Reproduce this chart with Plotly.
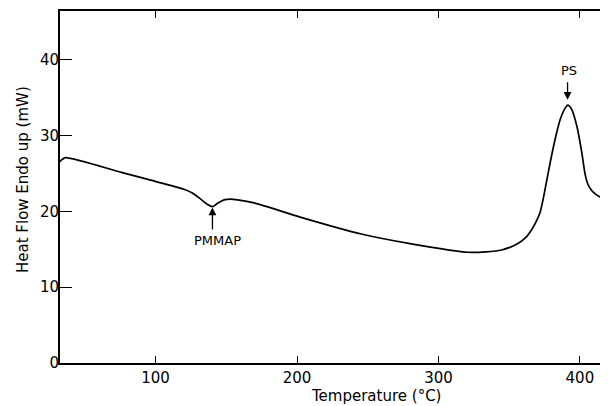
import plotly.graph_objects as go

# Temperature (°C) and heat flow (mW)
temperature = [31.4, 33.8, 36.2, 76.4, 96.5, 120.0, 126.0, 131.9, 136.7, 140.2, 143.8,
               148.4, 153.0, 158.0, 169.7, 202.8, 245.4, 280.9, 321.0, 344.7,
               356.5, 362.0, 366.0, 369.0, 371.8, 373.6, 375.4, 379.0, 382.5, 386.1,
               389.6, 391.5, 394.3, 397.9, 401.4, 403.8, 405.6, 408.5, 411.5, 415.6,
               421.3]
heat_flow = [26.4, 26.8, 27.07, 25.1, 24.1, 22.9, 22.4, 21.6, 20.9, 20.6, 21.05,
             21.5, 21.6, 21.5, 21.1, 19.2, 17.0, 15.7, 14.6, 14.9,
             15.8, 16.6, 17.6, 18.6, 19.8, 21.2, 22.9, 26.4, 29.5, 32.1,
             33.6, 34.0, 33.4, 31.2, 27.7, 24.8, 23.6, 22.7, 22.2, 21.8,
             21.6]

x_ticks = [100, 200, 300, 400]
y_ticks = [0, 10, 20, 30, 40]
x_range = [32.4, 419.9]
y_range = [0, 46.4]

peak_labels = ["PMMAP", "PS"]
peak_T = [140.2, 391.3]
peak_tip = [20.5, 34.7]
peak_tail = [17.4, 37.2]
label_T = [143.6, 392.2]
label_y = [16.2, 38.5]

font_family = "DejaVu Sans"

# The page body has an 8px default margin, so the figure is drawn 8px in from the
# window's top-left corner; size the figure so it fits in the 608x406 window.
OFF = 8
W, H = 600, 398
L, R, T, B = 52, 0, 3, 43
pw, ph = W - L - R, H - T - B


def px_to_paper(px, py):
    """Window pixel position -> paper coordinates."""
    return (px - OFF - L) / pw, (H - B - (py - OFF)) / ph


fig = go.Figure()
fig.add_trace(go.Scatter(
    x=temperature, y=heat_flow, mode="lines",
    line=dict(color="black", width=1.7, shape="spline", smoothing=0.7),
    showlegend=False, hoverinfo="skip"))

for lab, t, tip, tail, lt, ly in zip(peak_labels, peak_T, peak_tip, peak_tail, label_T, label_y):
    fig.add_annotation(x=t, y=tip, ax=t, ay=tail, axref="x", ayref="y",
                       xref="x", yref="y", showarrow=True, arrowhead=2,
                       arrowsize=1.2, arrowwidth=1.3, arrowcolor="black", text="")
    fig.add_annotation(x=lt, y=ly, xref="x", yref="y",
                       text=lab, showarrow=False,
                       font=dict(family=font_family, size=13, color="black"))

xt, yt = px_to_paper(376, 396)
fig.add_annotation(x=xt, y=yt, xref="paper", yref="paper", text="Temperature (°C)",
                   showarrow=False, xanchor="center", yanchor="middle",
                   font=dict(family=font_family, size=15, color="black"))
xt, yt = px_to_paper(23, 180)
fig.add_annotation(x=xt, y=yt, xref="paper", yref="paper", text="Heat Flow Endo up (mW)",
                   showarrow=False, xanchor="center", yanchor="middle", textangle=-90,
                   font=dict(family=font_family, size=15, color="black"))

fig.update_layout(
    width=W, height=H,
    margin=dict(l=L, r=R, t=T, b=B),
    paper_bgcolor="white", plot_bgcolor="white",
    font=dict(family=font_family, size=15, color="black"),
    xaxis=dict(range=x_range, tickvals=x_ticks, ticks="inside", ticklen=7,
               tickcolor="black", showline=True, linecolor="black", linewidth=2,
               mirror="ticks", showgrid=False, zeroline=False, automargin=False,
               tickfont=dict(family=font_family, size=15)),
    yaxis=dict(range=y_range, tickvals=y_ticks, ticks="inside", ticklen=12,
               tickcolor="black", showline=True, linecolor="black", linewidth=2,
               showgrid=False, zeroline=False, automargin=False,
               ticklabelstandoff=-4,
               tickfont=dict(family=font_family, size=15)),
)

fig.write_html("out.html")
